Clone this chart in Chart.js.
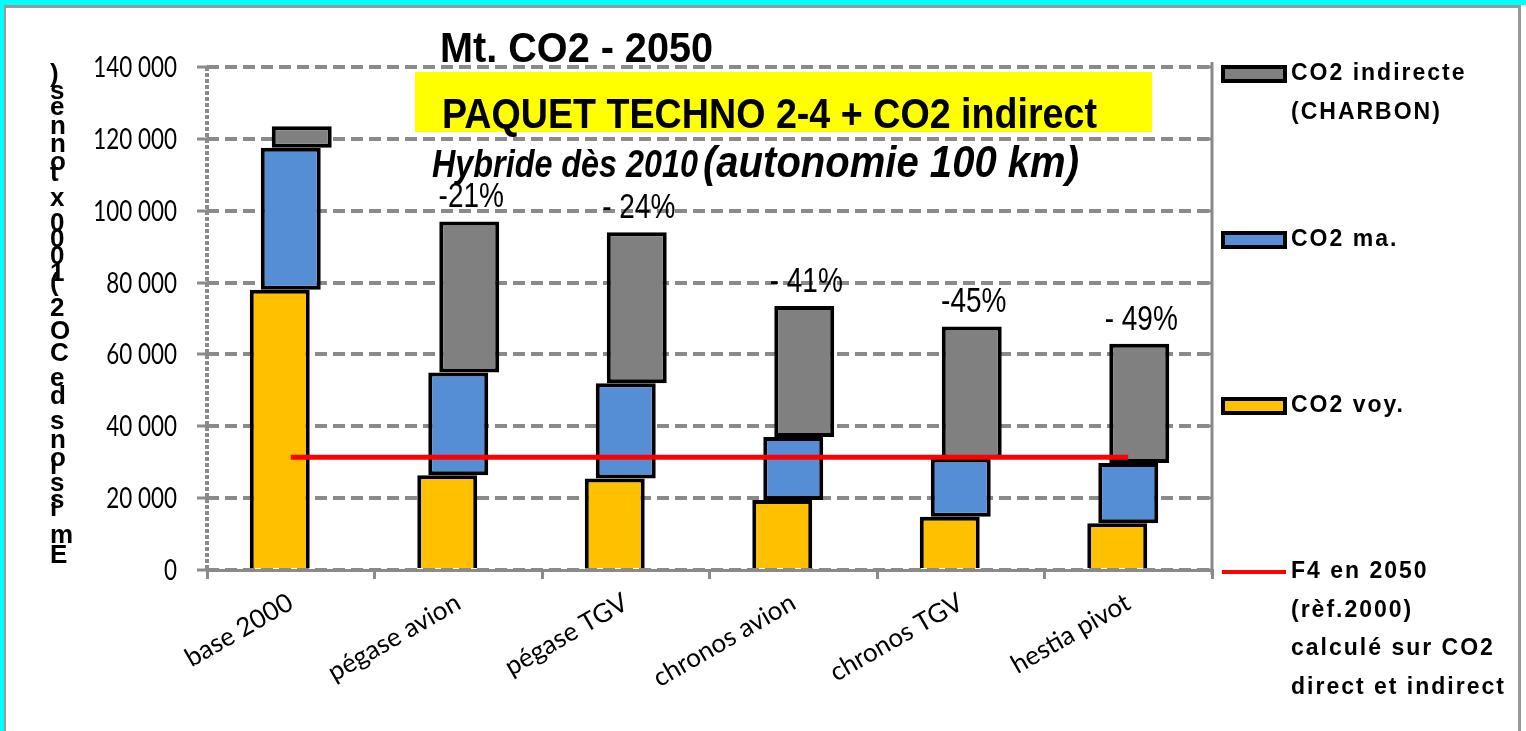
<!DOCTYPE html>
<html>
<head>
<meta charset="utf-8">
<title>Mt. CO2 - 2050</title>
<script src="https://cdn.jsdelivr.net/npm/chart.js@4.4.0/dist/chart.umd.min.js"></script>
<style>
    html, body { margin: 0; padding: 0; background: #fff; }
    #wrap { position: relative; width: 1526px; height: 731px; }
</style>
</head>
<body>
<div id="wrap"><canvas id="chart" width="1526" height="731"></canvas></div>
<script>
// ---- data (1000 t CO2) ----
const categories = ['base 2000', 'pégase avion', 'pégase TGV', 'chronos avion', 'chronos TGV', 'hestia pivot'];
const co2Voy = [78000, 26400, 25500, 19500, 14800, 13000];
const co2Ma = [39500, 28600, 26500, 17500, 16200, 16800];
const co2Indirect = [6000, 42000, 42000, 36500, 36800, 33200];
const f4Target = [31400, 31400, 31400, 31400, 31400, 31400];
const changeLabels = ['', '-21%', '- 24%', '- 41%', '-45%', '- 49%'];
const yMax = 140000;
const yStep = 20000;

const seriesNames = ['CO2 voy.', 'CO2 ma.', 'CO2 indirecte\n(CHARBON)'];
const lineName = 'F4 en 2050\n(rèf.2000)\ncalculé sur CO2\ndirect et indirect';
const mainTitle = 'Mt. CO2 - 2050';
const boxTitle = 'PAQUET TECHNO 2-4 + CO2 indirect';
const subTitleA = 'Hybride dès 2010';
const subTitleB = '(autonomie 100 km)';
const yTitle = 'Emissions de CO2 (1000 x tonnes)';

const SANS = '"Liberation Sans", Arial, sans-serif';
const GRID = '#8a8a8a';

/**
 * Format a number with spaces between thousands
 */
function formatNumber(value) {
    return String(value).replace(/\B(?=(\d{3})+(?!\d))/g, ' ');
}

/**
 * Turn segment heights into floating [from, to] ranges on top of a lower series
 */
function floating(lower, seg) {
    return seg.map((v, i) => [lower[i], lower[i] + v]);
}

/**
 * Draw text squeezed horizontally (narrow look); width = target width, or sx = factor
 */
function squeezed(ctx, text, x, y, opts) {
    const w = ctx.measureText(text).width;
    const sx = opts.width ? opts.width / w : opts.sx;
    ctx.save();
    ctx.translate(x, y);
    ctx.scale(sx, 1);
    ctx.fillText(text, 0, 0);
    ctx.restore();
}

const zeros = categories.map(() => 0);
const topVoy = co2Voy.slice();
const topMa = co2Voy.map((v, i) => v + co2Ma[i]);

// frame round the picture (cyan + grey)
const framePlugin = {
    id: 'frame',
    beforeDraw(chart) {
        const ctx = chart.ctx;
        const w = chart.width, h = chart.height;
        ctx.save();
        ctx.fillStyle = '#fff';
        ctx.fillRect(0, 0, w, h);
        ctx.fillStyle = '#00ffff';
        ctx.fillRect(0, 0, w, 5);
        ctx.fillRect(0, 0, 4, h);
        ctx.fillStyle = '#999';
        ctx.fillRect(4, 5, w - 9, 3);
        ctx.fillRect(4, 5, 2, h - 5);
        ctx.fillRect(w - 8, 5, 3, h - 5);
        ctx.restore();
    }
};

// titles, percentage labels, axis details, y title and side legend
const annotatePlugin = {
    id: 'annotate',
    afterDraw(chart) {
        const ctx = chart.ctx;
        const area = chart.chartArea;
        const yScale = chart.scales.y;
        ctx.save();

        // right-hand axis with inward ticks
        ctx.strokeStyle = GRID;
        ctx.lineWidth = 3;
        ctx.beginPath();
        ctx.moveTo(area.right, area.top - 5);
        ctx.lineTo(area.right, area.bottom + 5);
        yScale.ticks.forEach(t => {
            const y = Math.round(yScale.getPixelForValue(t.value));
            ctx.moveTo(area.right - 6, y);
            ctx.lineTo(area.right, y);
        });
        ctx.stroke();

        // dotted left axis
        ctx.lineWidth = 4;
        ctx.setLineDash([4, 2]);
        ctx.beginPath();
        ctx.moveTo(area.left, area.top);
        ctx.lineTo(area.left, area.bottom);
        ctx.stroke();
        ctx.setLineDash([]);

        // y tick labels (narrow digits)
        ctx.fillStyle = '#000';
        ctx.font = '28px Lato, ' + SANS;
        ctx.textAlign = 'right';
        ctx.textBaseline = 'middle';
        yScale.ticks.forEach(t => {
            const y = yScale.getPixelForValue(t.value);
            squeezed(ctx, formatNumber(t.value), area.left - 30, y + 1, { sx: 0.8 });
        });

        // titles
        ctx.textAlign = 'left';
        ctx.textBaseline = 'alphabetic';
        ctx.font = 'bold 42px ' + SANS;
        squeezed(ctx, mainTitle, 440, 62, { width: 273 });

        ctx.fillStyle = '#ffff00';
        ctx.fillRect(415, 72, 737, 60);
        ctx.fillStyle = '#000';
        ctx.font = 'bold 43px ' + SANS;
        squeezed(ctx, boxTitle, 442, 128, { width: 655 });

        ctx.font = 'italic bold 38px ' + SANS;
        squeezed(ctx, subTitleA, 432, 177, { width: 266 });
        ctx.font = 'italic bold 45px ' + SANS;
        squeezed(ctx, subTitleB, 703, 177, { width: 376 });

        // change labels over the grey bars
        const meta = chart.getDatasetMeta(2);
        ctx.font = '35px ' + SANS;
        ctx.textAlign = 'center';
        meta.data.forEach((bar, i) => {
            if (changeLabels[i]) {
                squeezed(ctx, changeLabels[i], bar.x + 2, bar.y - 14, { sx: 0.8 });
            }
        });

        // y axis title: upright characters stacked from the bottom up
        ctx.font = 'bold 26px ' + SANS;
        ctx.textAlign = 'left';
        const chars = yTitle.split('');
        const adv = chars.map(c => ctx.measureText(c).width);
        const total = adv.slice(0, -1).reduce((a, b) => a + b, 0);
        const k = 481 / total;
        let cy = 563;
        chars.forEach((c, i) => {
            ctx.fillText(c, 50, cy);
            cy -= adv[i] * k;
        });

        // side legend
        const lx = area.right + 11;
        const tx = area.right + 79;
        const items = [
            { ds: 2, kind: 'box' },
            { ds: 1, kind: 'box' },
            { ds: 0, kind: 'box' },
            { ds: 3, kind: 'line' }
        ];
        ctx.font = 'bold 23px ' + SANS;
        ctx.letterSpacing = '2px';
        ctx.textBaseline = 'middle';
        items.forEach((item, i) => {
            const ds = chart.data.datasets[item.ds];
            const cyL = 74 + i * 166;
            if (item.kind === 'box') {
                ctx.fillStyle = ds.backgroundColor;
                ctx.fillRect(lx, cyL - 7, 62, 14);
                ctx.strokeStyle = '#000';
                ctx.lineWidth = 4;
                ctx.strokeRect(lx, cyL - 7, 62, 14);
            } else {
                ctx.strokeStyle = ds.borderColor;
                ctx.lineWidth = 4;
                ctx.beginPath();
                ctx.moveTo(lx - 1, cyL);
                ctx.lineTo(lx + 63, cyL);
                ctx.stroke();
            }
            ctx.fillStyle = '#000';
            ds.label.split('\n').forEach((line, j) => {
                ctx.fillText(line, tx, cyL + j * 38.5);
            });
        });
        ctx.restore();
    }
};

const barCommon = {
    type: 'bar',
    borderColor: '#000',
    borderWidth: 4,
    categoryPercentage: 0.197,
    barPercentage: 5.45,
    order: 1
};

function init() {
    const canvas = document.getElementById('chart');
    new Chart(canvas.getContext('2d'), {
        type: 'bar',
        data: {
            labels: categories,
            datasets: [
                Object.assign({}, barCommon, {
                    label: seriesNames[0],
                    data: floating(zeros, co2Voy),
                    backgroundColor: '#ffc000',
                    borderSkipped: 'start'
                }),
                Object.assign({}, barCommon, {
                    label: seriesNames[1],
                    data: floating(topVoy, co2Ma),
                    backgroundColor: '#558ed5',
                    borderSkipped: false
                }),
                Object.assign({}, barCommon, {
                    label: seriesNames[2],
                    data: floating(topMa, co2Indirect),
                    backgroundColor: '#808080',
                    borderSkipped: false
                }),
                {
                    type: 'line',
                    label: lineName,
                    data: f4Target,
                    borderColor: '#ff0000',
                    borderWidth: 5,
                    pointRadius: 0,
                    fill: false,
                    order: 0
                }
            ]
        },
        options: {
            responsive: false,
            animation: false,
            layout: { padding: { left: 0, right: 314, top: 67, bottom: 0 } },
            plugins: {
                legend: { display: false },
                title: { display: false },
                tooltip: { enabled: false }
            },
            scales: {
                x: {
                    offset: true,
                    grid: {
                        display: true,
                        drawOnChartArea: false,
                        offset: true,
                        color: GRID,
                        lineWidth: 3,
                        tickLength: 9
                    },
                    border: { color: GRID, width: 3 },
                    ticks: {
                        autoSkip: false,
                        minRotation: 30,
                        maxRotation: 30,
                        padding: 8,
                        color: '#000',
                        font: { family: 'Lato', size: 26 }
                    },
                    afterFit: function(scale) { scale.height = 161; }
                },
                y: {
                    min: 0,
                    max: yMax,
                    grid: {
                        color: GRID,
                        lineWidth: 4,
                        tickLength: 10,
                        tickColor: GRID,
                        tickWidth: 3,
                        tickBorderDash: []
                    },
                    border: { display: false, dash: [12, 6] },
                    ticks: {
                        display: false,
                        stepSize: yStep
                    },
                    afterFit: function(scale) { scale.width = 207; }
                }
            }
        },
        plugins: [framePlugin, annotatePlugin]
    });
}

document.addEventListener('DOMContentLoaded', init);
</script>
</body>
</html>
